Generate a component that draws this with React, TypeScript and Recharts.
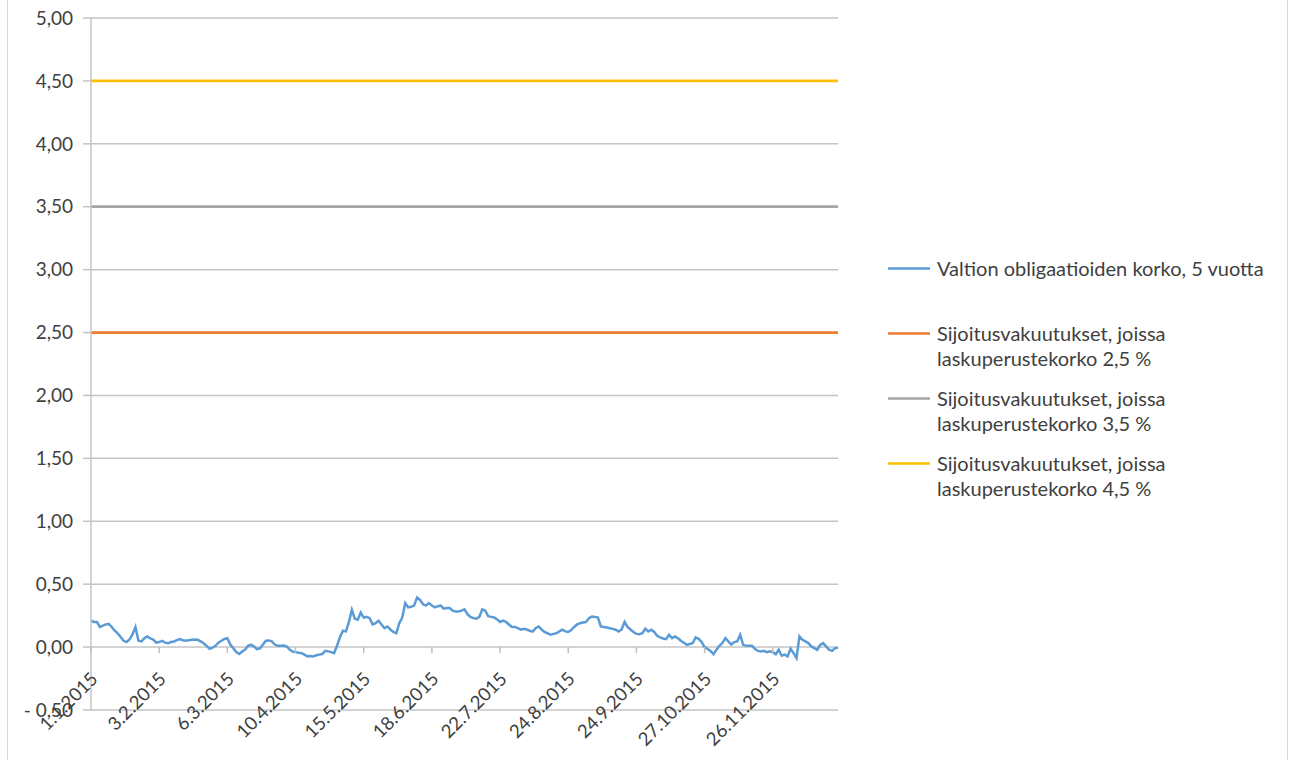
import React from 'react';
import { LineChart, Line, XAxis, YAxis, CartesianGrid, Legend } from 'recharts';

// x-axis labels, one every 23 trading days
const tickLabels = [
  '1.1.2015', '3.2.2015', '6.3.2015', '10.4.2015', '15.5.2015', '18.6.2015',
  '22.7.2015', '24.8.2015', '24.9.2015', '27.10.2015', '26.11.2015',
];
const TICK_STEP = 23;

const yTicks = [-0.5, 0, 0.5, 1, 1.5, 2, 2.5, 3, 3.5, 4, 4.5, 5];

const seriesNames = [
  'Valtion obligaatioiden korko, 5 vuotta',
  'Sijoitusvakuutukset, joissa\nlaskuperustekorko 2,5 %',
  'Sijoitusvakuutukset, joissa\nlaskuperustekorko 3,5 %',
  'Sijoitusvakuutukset, joissa\nlaskuperustekorko 4,5 %',
];

const guaranteedRates = [2.5, 3.5, 4.5];

// 5y government bond yield, % (one value per trading day, 2015)
const bondYield5y = [
  0.21, 0.2, 0.2, 0.16, 0.17, 0.18, 0.185, 0.16, 0.13, 0.11,
  0.08, 0.05, 0.04, 0.06, 0.1, 0.16, 0.05, 0.045, 0.07, 0.085,
  0.07, 0.06, 0.035, 0.04, 0.05, 0.035, 0.03, 0.04, 0.045, 0.055,
  0.063, 0.055, 0.05, 0.055, 0.058, 0.06, 0.058, 0.045, 0.03, 0.01,
  -0.013, -0.005, 0.01, 0.035, 0.05, 0.065, 0.07, 0.02, -0.01, -0.04,
  -0.055, -0.035, -0.02, 0.01, 0.02, 0.005, -0.016, -0.01, 0.02, 0.05,
  0.053, 0.045, 0.02, 0.01, 0.01, 0.012, 0.005, -0.02, -0.035, -0.04,
  -0.045, -0.048, -0.06, -0.074, -0.07, -0.074, -0.065, -0.06, -0.055, -0.03,
  -0.034, -0.04, -0.048, 0.01, 0.08, 0.13, 0.125, 0.2, 0.296, 0.225,
  0.217, 0.275, 0.235, 0.24, 0.23, 0.18, 0.19, 0.21, 0.18, 0.15,
  0.164, 0.14, 0.12, 0.11, 0.19, 0.235, 0.35, 0.315, 0.32, 0.33,
  0.394, 0.375, 0.34, 0.33, 0.35, 0.33, 0.315, 0.325, 0.33, 0.305,
  0.31, 0.31, 0.29, 0.283, 0.283, 0.29, 0.3, 0.262, 0.24, 0.23,
  0.225, 0.24, 0.3, 0.29, 0.245, 0.24, 0.235, 0.22, 0.2, 0.21,
  0.2, 0.18, 0.16, 0.16, 0.15, 0.138, 0.146, 0.14, 0.13, 0.124,
  0.15, 0.164, 0.14, 0.12, 0.11, 0.098, 0.105, 0.11, 0.125, 0.138,
  0.125, 0.12, 0.135, 0.16, 0.18, 0.19, 0.195, 0.2, 0.23, 0.243,
  0.24, 0.235, 0.164, 0.16, 0.156, 0.15, 0.145, 0.138, 0.124, 0.14,
  0.2, 0.16, 0.14, 0.12, 0.105, 0.103, 0.11, 0.146, 0.124, 0.138,
  0.12, 0.09, 0.077, 0.068, 0.063, 0.098, 0.071, 0.085, 0.07, 0.05,
  0.035, 0.018, 0.025, 0.032, 0.077, 0.066, 0.04, 0.0, -0.015, -0.03,
  -0.056, -0.02, 0.01, 0.032, 0.071, 0.045, 0.02, 0.04, 0.045, 0.098,
  0.018, 0.01, 0.01, 0.01, -0.016, -0.03, -0.034, -0.03, -0.04, -0.034,
  -0.04, -0.056, -0.021, -0.069, -0.06, -0.074, -0.013, -0.048, -0.087, 0.085,
  0.058, 0.045, 0.032, 0.005, -0.008, -0.021, 0.018, 0.032, 0.005, -0.021,
  -0.03, -0.008, -0.005,
];

const data = bondYield5y.map((v, i) => ({
  day: i,
  yield5y: v,
  rate25: guaranteedRates[0],
  rate35: guaranteedRates[1],
  rate45: guaranteedRates[2],
}));

const FONT = 'Lato, "Open Sans", sans-serif';
const W = 1293;
const H = 760;
const TOP = 18;
const PLOT_BOTTOM = 710;
const Y_MIN = -0.5;
const Y_MAX = 5;
// distance from the bottom (-0,50) line up to the 0,00 line, where Excel puts the category axis
const ZERO_OFFSET = ((PLOT_BOTTOM - TOP) * (0 - Y_MIN)) / (Y_MAX - Y_MIN);

const fmtY = (v: number) => {
  const s = Math.abs(v).toFixed(2).replace('.', ',');
  return v < 0 ? '- ' + s : s;
};

const DateTick = (props: any) => {
  const { x, y, payload } = props;
  const label = tickLabels[payload.value / TICK_STEP];
  const zy = y - ZERO_OFFSET;
  const ax = x + 3;
  const ay = zy + 28;
  return (
    <g>
      <line x1={x} x2={x} y1={zy} y2={zy + 6} stroke="#bfbfbf" strokeWidth={1.5} />
      <text
        x={ax}
        y={ay}
        transform={`rotate(-45, ${ax}, ${ay})`}
        textAnchor="end"
        dominantBaseline="central"
        fontFamily={FONT}
        fontSize={18.5}
        fill="#404040"
      >
        {label}
      </text>
    </g>
  );
};

const renderLegend = (props: any) => {
  const items = [...(props.payload || [])].sort(
    (a: any, b: any) => seriesNames.indexOf(a.value) - seriesNames.indexOf(b.value),
  );
  return (
    <div style={{ fontFamily: FONT, fontSize: 20, color: '#404040' }}>
      {items.map((entry: any) => (
        <div key={entry.value} style={{ display: 'flex', alignItems: 'flex-start', height: 65 }}>
          <svg width={49} height={25} style={{ flex: 'none' }}>
            <line x1={0} x2={42} y1={12.5} y2={12.5} stroke={entry.color} strokeWidth={2.5} />
          </svg>
          <div style={{ lineHeight: '25px', whiteSpace: 'pre-line' }}>{entry.value}</div>
        </div>
      ))}
    </div>
  );
};

export default function App() {
  return (
    <div style={{ position: 'absolute', left: 0, top: 0, width: W, height: H, overflow: 'hidden', background: '#fff' }}>
      <div
        style={{
          position: 'absolute',
          left: 7,
          top: -10,
          width: 1279,
          height: H + 20,
          border: '1px solid #d9d9d9',
        }}
      />
      <LineChart
        width={W}
        height={H}
        data={data}
        margin={{ top: TOP, right: W - 838, bottom: 0, left: 0 }}
        style={{ position: 'absolute', left: 0, top: 0 }}
      >
        <CartesianGrid vertical={false} stroke="#c4c4c4" strokeWidth={1.5} />
        <XAxis
          dataKey="day"
          type="category"
          height={H - PLOT_BOTTOM}
          interval={TICK_STEP - 1}
          axisLine={false}
          tickLine={false}
          tickSize={0}
          tickMargin={0}
          tick={<DateTick />}
        />
        <YAxis
          width={91}
          domain={[Y_MIN, Y_MAX]}
          ticks={yTicks}
          tickFormatter={fmtY}
          axisLine={{ stroke: '#c4c4c4', strokeWidth: 1.5 }}
          tickLine={{ stroke: '#c4c4c4', strokeWidth: 1.5 }}
          tickSize={8}
          tickMargin={10}
          tick={{ fontFamily: FONT, fontSize: 19, fill: '#404040' }}
        />
        <Legend
          layout="vertical"
          align="center"
          verticalAlign="middle"
          content={renderLegend}
          wrapperStyle={{ left: 888, top: 256, width: 400 }}
        />
        <Line dataKey="yield5y" name={seriesNames[0]} stroke="#5b9bd5" strokeWidth={2.5} dot={false} isAnimationActive={false} />
        <Line dataKey="rate25" name={seriesNames[1]} stroke="#ed7d31" strokeWidth={2.75} dot={false} isAnimationActive={false} />
        <Line dataKey="rate35" name={seriesNames[2]} stroke="#a5a5a5" strokeWidth={2.75} dot={false} isAnimationActive={false} />
        <Line dataKey="rate45" name={seriesNames[3]} stroke="#ffc000" strokeWidth={2.75} dot={false} isAnimationActive={false} />
      </LineChart>
    </div>
  );
}
